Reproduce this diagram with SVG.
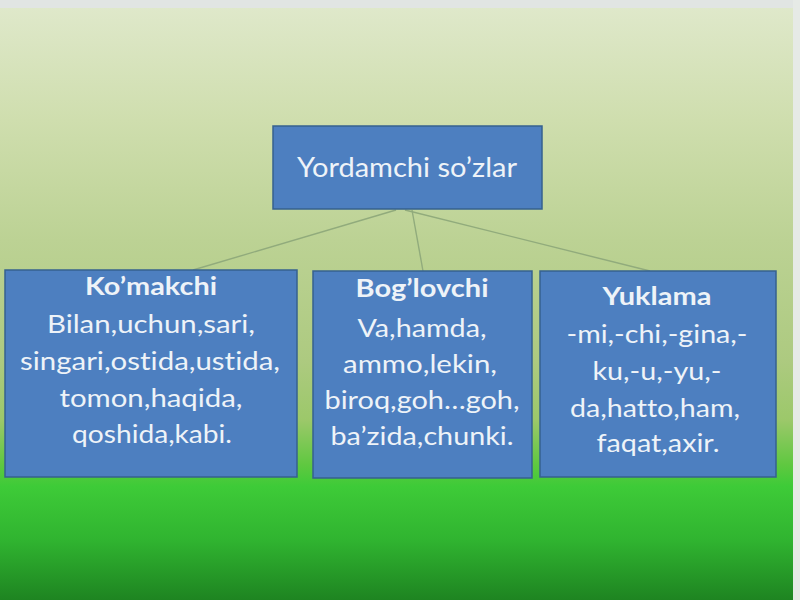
<svg xmlns="http://www.w3.org/2000/svg" width="800" height="600" viewBox="0 0 800 600">
  <defs>
    <linearGradient id="bg" x1="0" y1="0" x2="0" y2="1">
      <stop offset="0" stop-color="#e0e9cc"/>
      <stop offset="0.2" stop-color="#cfdeae"/>
      <stop offset="0.4" stop-color="#bcd294"/>
      <stop offset="0.6" stop-color="#adca80"/>
      <stop offset="0.7" stop-color="#9cc86a"/>
      <stop offset="0.775" stop-color="#5fc840"/>
      <stop offset="0.81" stop-color="#3ecb38"/>
      <stop offset="0.9" stop-color="#30b430"/>
      <stop offset="1" stop-color="#1e8421"/>
    </linearGradient>
    <style>
      .box { fill: #4d7fc0; stroke: #36618f; stroke-width: 1.5; }
      .t { font-family: Lato, "Open Sans", "Noto Sans", sans-serif; fill: #eef3f8; text-anchor: middle; font-variant-ligatures: none; font-feature-settings: "liga" 0; }
      .title { font-size: 27px; }
      .head { font-size: 25px; font-weight: bold; }
      .body { font-size: 25px; }
      .conn { stroke: #91ab7c; stroke-width: 1.4; fill: none; }
    </style>
  </defs>

  <rect x="0" y="0" width="800" height="600" fill="url(#bg)"/>
  <rect x="0" y="0" width="800" height="8" fill="#e1e5e3"/>
  <rect x="793" y="0" width="7" height="600" fill="#e6eae6"/>

  <g id="connectors">
    <line class="conn" x1="396" y1="210" x2="193" y2="270"/>
    <line class="conn" x1="412" y1="210" x2="423" y2="271"/>
    <line class="conn" x1="405" y1="210" x2="650" y2="271"/>
  </g>

  <g id="node-root">
    <rect class="box" x="273" y="126" width="269" height="83"/>
    <text class="t title" x="407" y="177" textLength="220" lengthAdjust="spacingAndGlyphs">Yordamchi so’zlar</text>
  </g>

  <g id="node-komakchi">
    <rect class="box" x="5" y="270" width="292" height="207"/>
    <text class="t head" x="151" y="295" textLength="132" lengthAdjust="spacingAndGlyphs">Ko’makchi</text>
    <text class="t body" x="151" y="333" textLength="208" lengthAdjust="spacingAndGlyphs">Bilan,uchun,sari,</text>
    <text class="t body" x="150" y="370" textLength="260" lengthAdjust="spacingAndGlyphs">singari,ostida,ustida,</text>
    <text class="t body" x="151" y="407" textLength="183" lengthAdjust="spacingAndGlyphs">tomon,haqida,</text>
    <text class="t body" x="152" y="443" textLength="160" lengthAdjust="spacingAndGlyphs">qoshida,kabi.</text>
  </g>

  <g id="node-boglovchi">
    <rect class="box" x="313" y="271" width="219" height="207"/>
    <text class="t head" x="422" y="297" textLength="133" lengthAdjust="spacingAndGlyphs">Bog’lovchi</text>
    <text class="t body" x="422" y="337" textLength="129" lengthAdjust="spacingAndGlyphs">Va,hamda,</text>
    <text class="t body" x="420" y="373" textLength="154" lengthAdjust="spacingAndGlyphs">ammo,lekin,</text>
    <text class="t body" x="422" y="409" textLength="195" lengthAdjust="spacingAndGlyphs">biroq,goh…goh,</text>
    <text class="t body" x="422" y="445" textLength="183" lengthAdjust="spacingAndGlyphs">ba’zida,chunki.</text>
  </g>

  <g id="node-yuklama">
    <rect class="box" x="540" y="271" width="236" height="206"/>
    <text class="t head" x="657" y="305" textLength="109" lengthAdjust="spacingAndGlyphs">Yuklama</text>
    <text class="t body" x="657" y="343" textLength="181" lengthAdjust="spacingAndGlyphs">-mi,-chi,-gina,-</text>
    <text class="t body" x="657" y="380" textLength="129" lengthAdjust="spacingAndGlyphs">ku,-u,-yu,-</text>
    <text class="t body" x="655" y="417" textLength="170" lengthAdjust="spacingAndGlyphs">da,hatto,ham,</text>
    <text class="t body" x="658" y="452" textLength="123" lengthAdjust="spacingAndGlyphs">faqat,axir.</text>
  </g>
</svg>
